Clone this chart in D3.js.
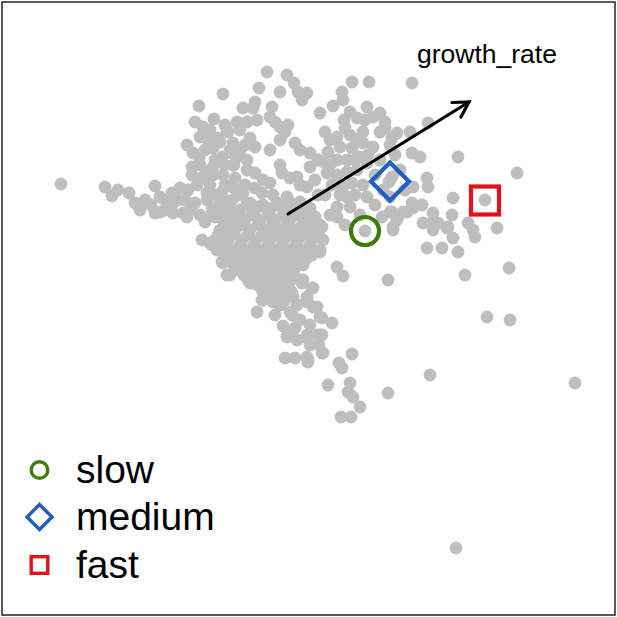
<!DOCTYPE html>
<html>
<head>
<meta charset="utf-8">
<script src="https://cdn.jsdelivr.net/npm/d3@7"></script>
<style>
  body { margin: 0; background: #fff; }
  svg text { font-family: "Liberation Sans", Arial, sans-serif; fill: #000; }
</style>
</head>
<body>
<div id="chart"></div>
<script>
// cell positions on the two ordination axes
const cells = [
  [61,184],[223,94],[199,106],[214,119],[195,122],[203,127],[225,125],[228,132],[237,122],[200,137],
  [208,140],[187,145],[193,153],[199,158],[213,148],[222,157],[233,143],[232,153],[234,165],[192,167],
  [192,175],[203,177],[213,175],[223,175],[197,185],[210,185],[222,192],[233,187],[105,187],[118,190],
  [112,196],[129,193],[135,203],[155,186],[151,205],[160,197],[172,193],[180,188],[173,203],[165,210],
  [155,213],[183,213],[195,203],[207,200],[217,207],[228,202],[205,220],[215,217],[227,220],[237,217],
  [267,72],[287,75],[294,83],[298,92],[307,93],[302,100],[259,88],[280,92],[255,102],[243,108],
  [253,108],[272,107],[270,117],[275,122],[280,127],[288,125],[285,132],[247,122],[257,120],[227,130],
  [240,130],[250,138],[245,145],[255,147],[220,142],[237,157],[247,160],[233,165],[213,167],[207,173],
  [235,178],[247,170],[255,173],[263,180],[255,188],[262,193],[270,183],[280,165],[282,173],[290,178],
  [297,177],[300,185],[307,187],[243,193],[232,200],[220,197],[207,193],[233,212],[247,203],[257,207],
  [267,208],[277,203],[288,200],[300,202],[310,208],[315,217],[320,225],[295,143],[300,150],[310,153],
  [318,160],[310,167],[325,163],[328,152],[325,132],[320,113],[333,106],[343,100],[342,92],[352,82],
  [369,82],[344,120],[357,118],[367,107],[380,113],[373,117],[337,137],[350,135],[363,132],[380,132],
  [392,138],[340,147],[352,148],[363,143],[373,147],[337,160],[347,160],[360,157],[367,163],[327,173],
  [337,175],[347,172],[357,170],[332,185],[343,187],[352,183],[363,185],[367,197],[347,197],[337,207],
  [350,207],[337,217],[383,190],[390,197],[392,212],[382,217],[397,220],[389,182],
  [412,83],[385,128],[397,133],[390,145],[410,132],[428,123],[412,153],[420,157],[458,157],[517,173],
  [427,178],[428,187],[413,187],[392,177],[453,198],[485,200],[412,203],[422,205],[390,212],[403,212],
  [433,213],[452,215],[423,223],[438,223],[468,223],[448,227],[497,228],[393,227],[407,212],[413,208],
  [398,217],[433,222],[433,230],[447,228],[453,238],[473,230],[475,237],[365,231],[393,230],[321,227],
  [427,248],[442,248],[458,252],[337,267],[343,276],[388,280],[465,275],[509,268],[487,317],[510,320],
  [320,250],[322,318],[332,323],[320,335],[307,338],[322,353],[308,360],[352,354],[339,363],[342,368],
  [430,375],[575,383],[328,385],[350,383],[348,392],[388,393],[302,283],[313,288],[307,300],[313,307],
  [288,335],[307,337],[322,335],[297,340],[310,345],[285,358],[295,358],[307,357],[308,362],[323,353],
  [319,345],[353,397],[360,407],[341,417],[351,417],[456,548],
  [202,240],[205,222],[215,215],[187,217],[173,213],[160,212],[222,262],[227,275],[220,233],[237,223],
  [303,280],[283,288],[293,297],[307,302],[317,307],[263,300],[273,302],[257,312],[250,283],[290,312],
  [292,315],[320,317],[283,326],[295,328],[307,335],[287,337],[318,335],
  [223,220],[238,222],[250,203],[273,195],[287,197],[300,203],[310,213],[322,227],[323,240],[320,252],
  [307,258],[297,262],[290,273],[300,280],[312,288],[307,297],[290,290],[280,287],[270,293],[262,300],
  [253,283],[243,273],[230,275],[223,263],[217,250],[210,243],
  [240,210],[255,210],[270,210],[285,210],[300,210],
  [230,220],[245,220],[260,220],[275,220],[290,220],[305,220],
  [220,230],[235,230],[250,230],[265,230],[280,230],[295,230],[310,230],
  [215,240],[228,240],[242,240],[256,240],[270,240],[284,240],[298,240],[312,240],
  [222,250],[236,250],[250,250],[264,250],[278,250],[292,250],[306,250],
  [230,260],[244,260],[258,260],[272,260],[286,260],[300,260],
  [238,270],[252,270],[266,270],[280,270],[294,270],
  [248,280],[262,280],[276,280],[290,280],
  [248,205],[263,205],[278,205],[293,205],
  [236,215],[252,215],[268,215],[283,215],[298,215],[312,215],
  [226,225],[242,225],[258,225],[272,225],[287,225],[302,225],[316,225],
  [218,235],[232,235],[248,235],[262,235],[276,235],[290,235],[304,235],[318,235],
  [212,245],[226,245],[240,245],[254,245],[268,245],[282,245],[296,245],[310,245],
  [228,255],[240,255],[254,255],[268,255],[282,255],[296,255],[312,255],
  [234,265],[248,265],[262,265],[276,265],[290,265],[303,265],
  [244,275],[258,275],[272,275],[286,275],
  [258,285],[270,285],[284,285],[278,293],[292,293],
  [262,290],[275,296],[285,300],[297,305],[300,320],[310,325],[275,315],[280,305],
  [205,150],[215,160],[200,165],[225,165],[210,130],[218,138],[230,150],[240,150],[245,185],[238,195],
  [225,185],[215,195],[185,200],[190,210],[178,200],[165,200],[145,200],[140,210],[188,190],[200,215],
  [212,210],[225,210],
  [330,140],[345,128],[357,140],[368,155],[355,160],[330,165],[340,195],[355,195],[325,195],[330,215],
  [345,225],[360,215],[375,205],[375,175],[380,160],[365,120],[350,112],[385,122],[395,155],[400,170],
  [405,190],[315,180],[318,195],[270,150],[280,140]
];

// group centroids
const groups = ["slow", "medium", "fast"];
const groupPos = [[365,231], [390,181.5], [485,200.5]];
const groupColor = ["#3b7d0c", "#1e5fc3", "#e3111b"];
const groupShape = ["circle", "diamond", "square"];

// growth_rate loading arrow
const arrowLabel = "growth_rate";
const arrowFrom = [288,214];
const arrowTo = [469,102];

let width = 617;
let height = 617;

let x = d3.scaleLinear().domain([0, 617]).range([0, width]);
let y = d3.scaleLinear().domain([0, 617]).range([0, height]);

let svg = d3.select("#chart").append("svg")
  .attr("width", width)
  .attr("height", height);

// frame
svg.append("rect")
  .attr("x", 2).attr("y", 2)
  .attr("width", width - 4).attr("height", height - 4)
  .attr("fill", "none")
  .attr("stroke", "#222")
  .attr("stroke-width", 1.5);

// cells
svg.append("g")
  .selectAll("circle")
  .data(cells)
  .enter()
  .append("circle")
    .attr("cx", d => x(d[0]))
    .attr("cy", d => y(d[1]))
    .attr("r", 6.4)
    .attr("fill", "#bebebe");

// arrow
let x0 = x(arrowFrom[0]), y0 = y(arrowFrom[1]);
let x1 = x(arrowTo[0]), y1 = y(arrowTo[1]);
let ang = Math.atan2(y1 - y0, x1 - x0);
let headLen = 17;
let arrow = svg.append("g")
  .attr("stroke", "#000")
  .attr("stroke-width", 3.2)
  .attr("fill", "none")
  .attr("stroke-linecap", "round");
arrow.append("line")
  .attr("x1", x0).attr("y1", y0)
  .attr("x2", x1).attr("y2", y1);
arrow.append("path")
  .attr("d", "M" + (x1 - headLen * Math.cos(ang - Math.PI / 6)) + "," + (y1 - headLen * Math.sin(ang - Math.PI / 6))
    + "L" + x1 + "," + y1
    + "L" + (x1 - headLen * Math.cos(ang + Math.PI / 6)) + "," + (y1 - headLen * Math.sin(ang + Math.PI / 6)))
  .attr("stroke-linejoin", "miter");

svg.append("text")
  .attr("x", 417)
  .attr("y", 63)
  .attr("font-size", 26.5)
  .text(arrowLabel);

// marker shapes
function drawShape(g, shape, cx, cy, s, color, sw) {
  if (shape === "circle") {
    g.append("circle").attr("cx", cx).attr("cy", cy).attr("r", s)
      .attr("fill", "none").attr("stroke", color).attr("stroke-width", sw);
  } else if (shape === "diamond") {
    g.append("path")
      .attr("d", "M" + cx + "," + (cy - s) + "L" + (cx + s) + "," + cy + "L" + cx + "," + (cy + s) + "L" + (cx - s) + "," + cy + "Z")
      .attr("fill", "none").attr("stroke", color).attr("stroke-width", sw);
  } else {
    g.append("rect").attr("x", cx - s).attr("y", cy - s).attr("width", 2 * s).attr("height", 2 * s)
      .attr("fill", "none").attr("stroke", color).attr("stroke-width", sw);
  }
}

let centroids = svg.append("g");
let plotSize = [14, 19, 14];
groups.forEach((grp, i) => {
  drawShape(centroids, groupShape[i], x(groupPos[i][0]), y(groupPos[i][1]), plotSize[i], groupColor[i], 4.2);
});

// legend
let legend = svg.append("g");
let legendY = [470, 517, 565];
let legendSize = [8.3, 12.5, 8.3];
groups.forEach((grp, i) => {
  drawShape(legend, groupShape[i], 39.5, legendY[i], legendSize[i], groupColor[i], 3.4);
  legend.append("text")
    .attr("x", 76)
    .attr("y", legendY[i] + 13)
    .attr("font-size", 39)
    .text(grp);
});
</script>
</body>
</html>
